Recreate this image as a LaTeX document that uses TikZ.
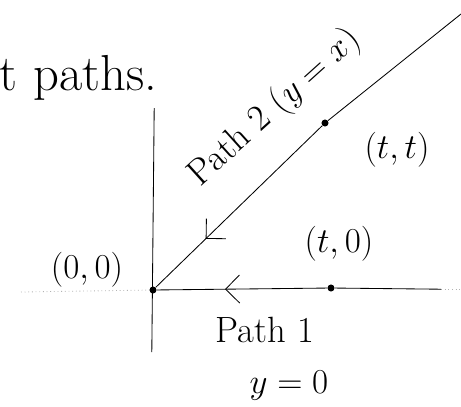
\documentclass[tikz,border=0pt]{standalone}
\usepackage{tikz}
\usetikzlibrary{arrows.meta,decorations.markings}

\begin{document}
\begin{tikzpicture}[
      punto/.style={circle, fill, inner sep=0pt, minimum size=5pt},
      etiqueta/.style={font=\fontsize{26}{30}\selectfont},
      eje/.style={line width=0.6pt},
      tenue/.style={dotted, gray!60, line width=0.6pt},
      marca/.style={postaction={decorate}, decoration={markings,
                    mark=at position #1 with {\arrow{Straight Barb[length=3.5mm,width=7mm]}}}}
    ]
    \useasboundingbox (-3.825,-2.9) rectangle (7.7,7.25);
    % ejes
    \coordinate (ejearriba) at (0.03,4.55);
    \coordinate (ejeabajo) at (-0.03,-1.55);
    \coordinate (ejeder) at (7.2,0.02);
    \coordinate (ejeizq) at (-3.3,-0.05);
    \coordinate (finder) at (7.7,0.02);
    \coordinate (diagfin) at (7.7,6.9);
    \node[punto] (O) at (0,0) {};
    \node[punto] (t0) at (4.45,0.05) {};
    \node[punto] (tt) at (4.3,4.175) {};
    \draw[eje] (ejeabajo) -- (ejearriba);
    \draw[tenue] (ejeizq) -- (O);
    \draw[tenue] (ejeder) -- (finder);
    % camino 1
    \draw[eje] (ejeder) -- (t0);
    \draw[eje, marca=0.6] (t0) -- (O);
    % camino 2
    \draw[eje] (diagfin) -- (tt);
    \draw[eje, marca=0.7] (tt) -- (O);
    % textos
    \node[etiqueta, font=\fontsize{36}{40}\selectfont, anchor=west] (titulo) at (-3.95,5.3) {t paths.};
    \node[etiqueta] (lblO) at (-1.65,0.5) {$(0,0)$};
    \node[etiqueta] (lblt0) at (4.65,1.15) {$(t,0)$};
    \node[etiqueta] (lbltt) at (6.1,3.5) {$(t,t)$};
    \node[etiqueta, rotate=42] (lblp2) at (3.05,4.55) {Path 2 ($y=x$)};
    \node[etiqueta] (lblp1) at (2.8,-1.0) {Path 1};
    \node[etiqueta] (lbly0) at (3.4,-2.4) {$y=0$};
  \end{tikzpicture}
\end{document}
